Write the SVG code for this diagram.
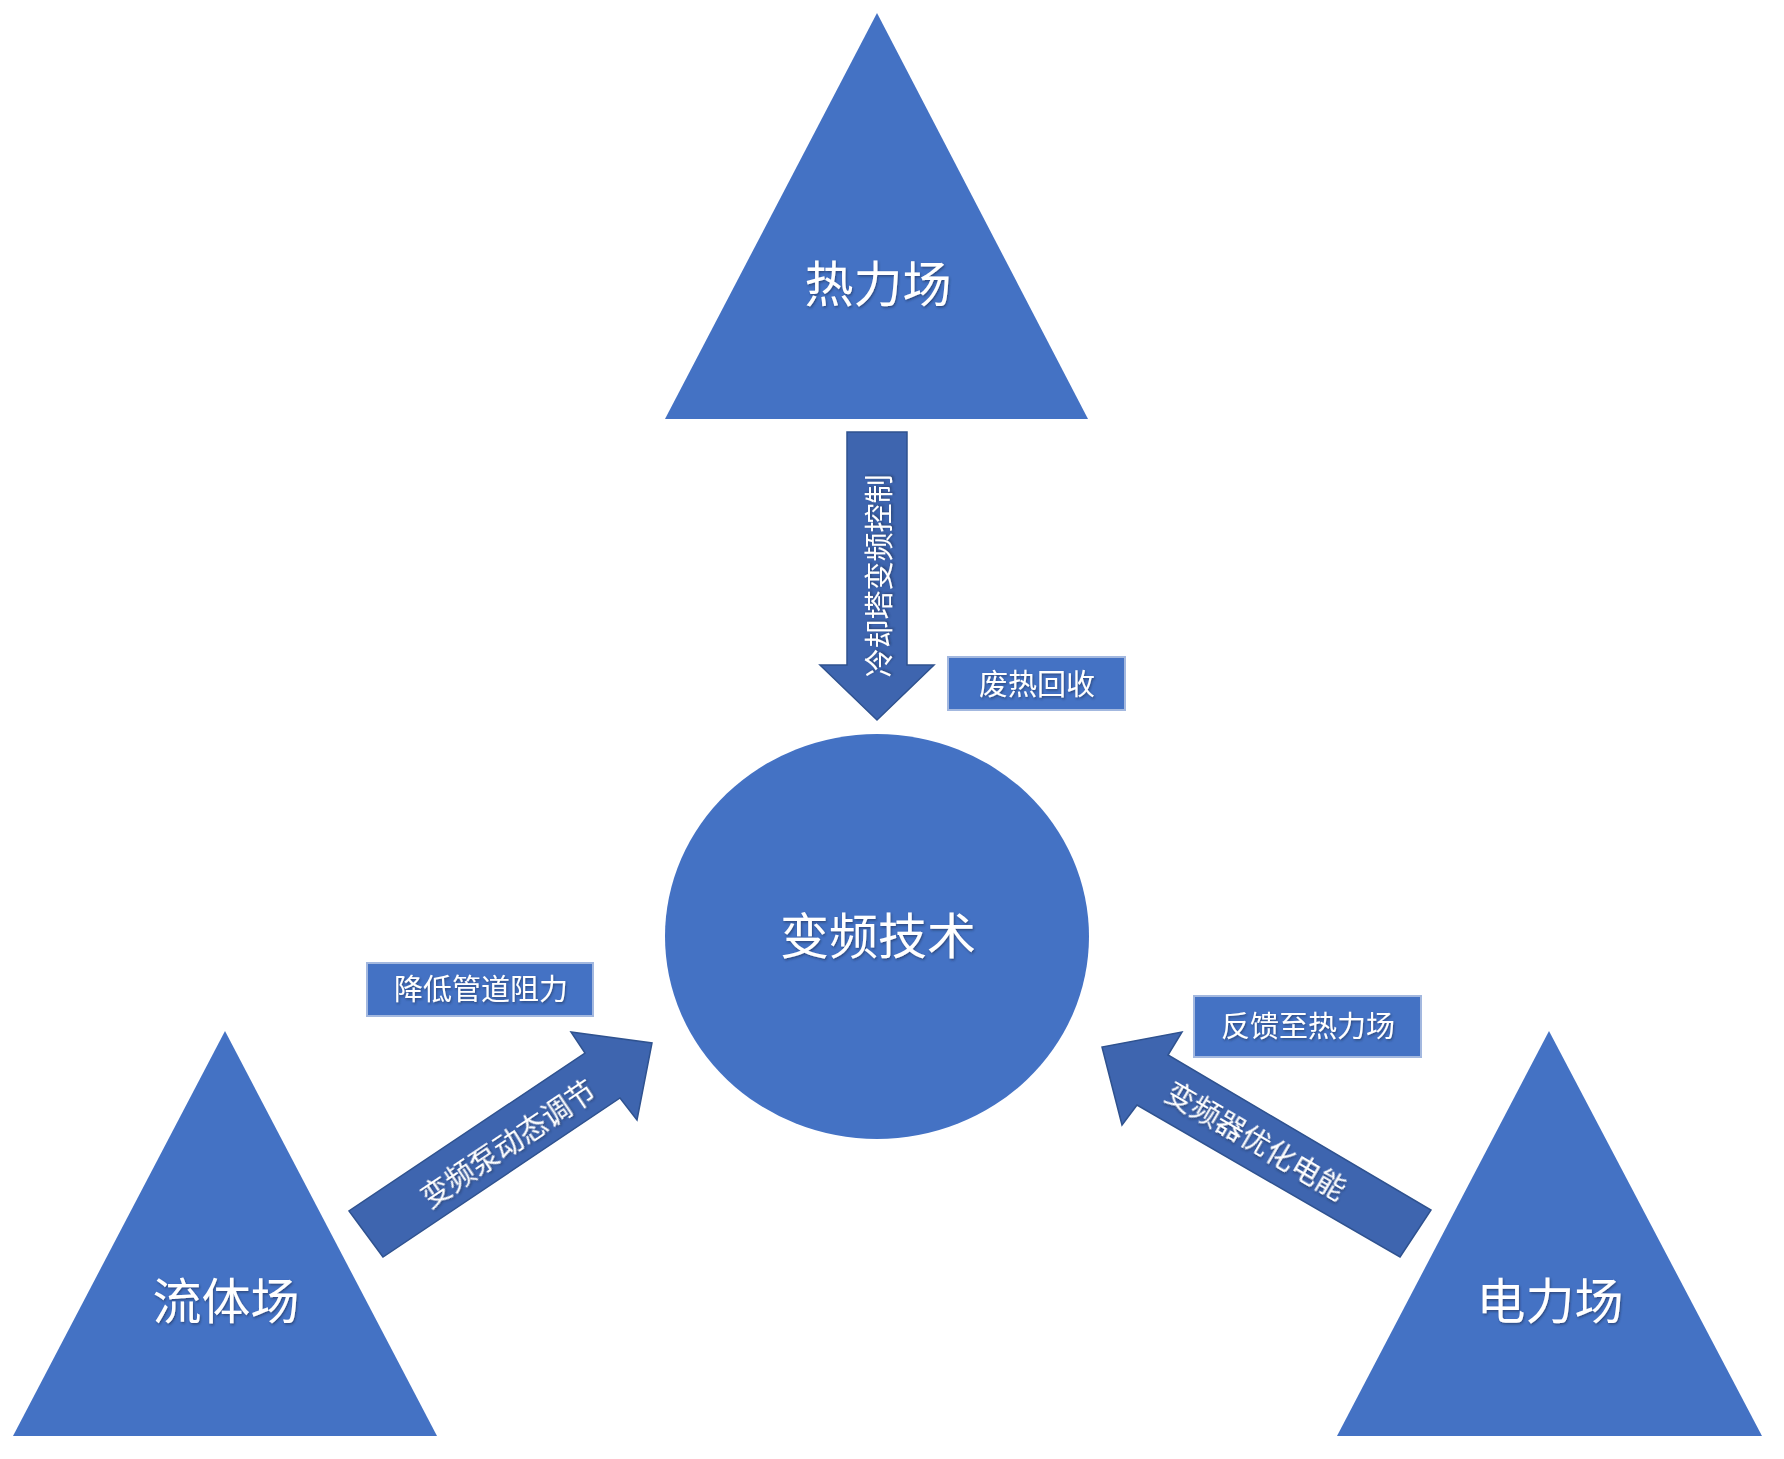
<svg xmlns="http://www.w3.org/2000/svg" width="1784" height="1459" viewBox="0 0 1784 1459">
<style>
.shape{fill:#4472C4}
.arrow{fill:#3E65AF;stroke:#2F528F;stroke-width:1.5}
.box{fill:#4472C4;stroke:#A3B8DF;stroke-width:2}
text{font-family:"Noto Sans CJK SC","Noto Sans",sans-serif;fill:#FFFFFF;text-anchor:middle;dominant-baseline:central}
.big{font-size:49px}
.small{font-size:29px}
.lbl{font-size:29px}
</style>
<defs>
<filter id="sh" x="-10%" y="-10%" width="120%" height="130%">
<feDropShadow dx="1" dy="1.5" stdDeviation="0.8" flood-color="#1a2a50" flood-opacity="0.6"/>
</filter>
</defs>
<rect width="1784" height="1459" fill="#FFFFFF"/>
<g id="connectors">
<g id="arrow-top">
<polygon class="arrow" points="847,432 907,432 907,665 934,665 877,720 820,665 847,665"/>
<text class="lbl" filter="url(#sh)" transform="translate(877,576) rotate(-90)">冷却塔变频控制</text>
</g>
<g id="arrow-left">
<polygon class="arrow" points="383,1257 349,1211 585,1053 571,1032 652,1043 637,1120 620,1098"/>
<text class="lbl" filter="url(#sh)" transform="translate(507,1142) rotate(-33.8)">变频泵动态调节</text>
</g>
<g id="arrow-right">
<polygon class="arrow" points="1400,1257 1431,1210 1168,1055 1182,1032 1102,1047 1122,1125 1137,1105"/>
<text class="lbl" filter="url(#sh)" transform="translate(1257,1139) rotate(30.3)">变频器优化电能</text>
</g>
</g>
<g id="node-thermal">
<polygon class="shape" points="877,13 1088,419 665,419"/>
<text class="big" x="878" y="280" filter="url(#sh)">热力场</text>
</g>
<g id="node-fluid">
<polygon class="shape" points="225,1031 437,1436 13,1436"/>
<text class="big" x="226" y="1297" filter="url(#sh)">流体场</text>
</g>
<g id="node-electric">
<polygon class="shape" points="1549,1031 1762,1436 1337,1436"/>
<text class="big" x="1550" y="1297" filter="url(#sh)">电力场</text>
</g>
<g id="node-center">
<ellipse class="shape" cx="877" cy="936.5" rx="212" ry="202.5"/>
<text class="big" x="878" y="932" filter="url(#sh)">变频技术</text>
</g>
<g id="label-waste-heat">
<rect class="box" x="948" y="657" width="177" height="53"/>
<text class="small" x="1037" y="682" filter="url(#sh)">废热回收</text>
</g>
<g id="label-pipe">
<rect class="box" x="367" y="963" width="226" height="53"/>
<text class="small" x="481" y="987" filter="url(#sh)">降低管道阻力</text>
</g>
<g id="label-feedback">
<rect class="box" x="1194" y="996" width="227" height="61"/>
<text class="small" x="1308" y="1024" filter="url(#sh)">反馈至热力场</text>
</g>
</svg>
